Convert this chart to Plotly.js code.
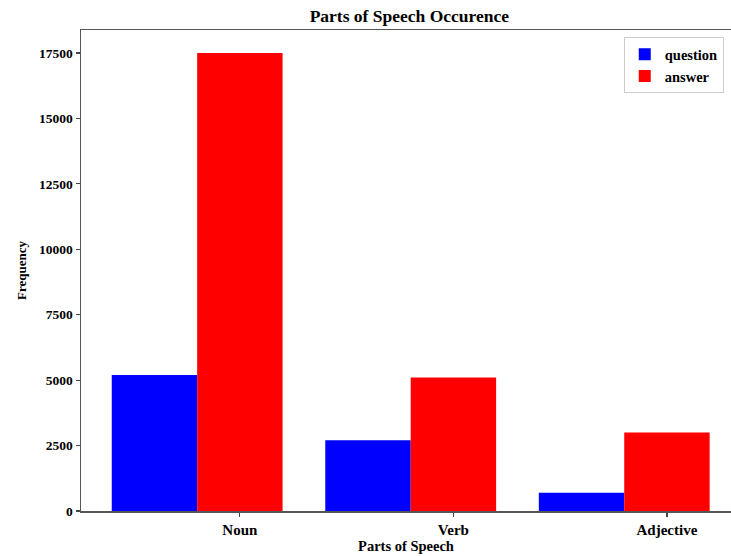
<!DOCTYPE html>
<html>
<head>
<meta charset="utf-8">
<script src="https://cdn.plot.ly/plotly-3.0.1.min.js"></script>
<style>html,body{margin:0;padding:0;background:#fff;}#chart{width:731px;height:556px;}</style>
</head>
<body>
<div id="chart"></div>
<script>
const categories = ["Noun", "Verb", "Adjective"];
const questionValues = [5200, 2700, 700];
const answerValues = [17500, 5100, 3000];
const seriesNames = ["question", "answer"];
const yTickVals = [0, 2500, 5000, 7500, 10000, 12500, 15000, 17500];

const barWidth = 0.4;
const idx = categories.map((c, i) => i);
const font = {family: "Liberation Serif, Times New Roman, serif", color: "#000", weight: "bold"};

const traces = [
  {type: "bar", name: seriesNames[0], x: idx, y: questionValues, width: barWidth,
   marker: {color: "#0000ff", line: {width: 0}}, hoverinfo: "none"},
  {type: "bar", name: seriesNames[1], x: idx.map(i => i + barWidth), y: answerValues, width: barWidth,
   marker: {color: "#ff0000", line: {width: 0}}, hoverinfo: "none"}
];

const layout = {
  width: 731, height: 556,
  margin: {l: 81, r: 0, t: 30, b: 45, pad: 0},
  paper_bgcolor: "#fff", plot_bgcolor: "#fff",
  barmode: "overlay",
  font: Object.assign({size: 13}, font),
  title: {text: "Parts of Speech Occurence", font: Object.assign({}, font, {size: 17.5}),
          x: 0.56, xanchor: "center", y: 0.971, yanchor: "middle"},
  xaxis: {
    range: [-0.344, 2.70],
    tickvals: idx.map(i => i + barWidth), ticktext: categories,
    ticks: "outside", ticklen: 4, tickwidth: 1.2, tickcolor: "#444",
    showline: true, linecolor: "#555", linewidth: 1.5, mirror: true,
    showgrid: false, zeroline: false,
    tickfont: Object.assign({}, font, {size: 15}),
    title: {text: "Parts of Speech", font: Object.assign({}, font, {size: 14.5}), standoff: 4}
  },
  yaxis: {
    range: [0, 18375],
    tickvals: yTickVals, ticktext: yTickVals.map(String),
    ticks: "outside", ticklen: 4, tickwidth: 1.2, tickcolor: "#444",
    showline: true, linecolor: "#555", linewidth: 1.5,
    showgrid: false, zeroline: false,
    tickfont: Object.assign({}, font, {size: 13.5}),
    title: {text: "Frequency", font: Object.assign({}, font, {size: 13}), standoff: 9}
  },
  legend: {
    x: 0.835, y: 0.985, xanchor: "left", yanchor: "top",
    bgcolor: "rgba(255,255,255,0.9)", bordercolor: "#ccc", borderwidth: 1,
    font: Object.assign({}, font, {size: 14.5}),
    tracegroupgap: 0, itemwidth: 30,
    traceorder: "normal"
  },
  showlegend: true
};

Plotly.newPlot("chart", traces, layout, {displayModeBar: false, staticPlot: true});
</script>
</body>
</html>
